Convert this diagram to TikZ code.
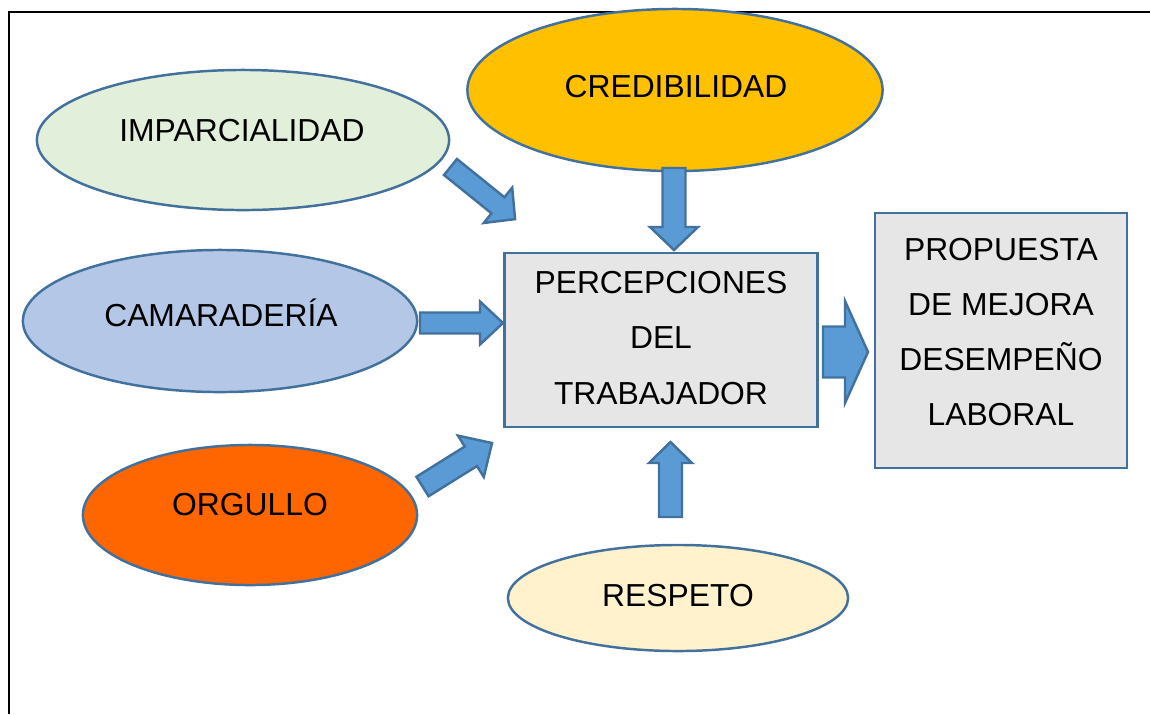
\documentclass[tikz,border=0pt]{standalone}
\usepackage{fontspec}
\setmainfont{Liberation Sans}
\usetikzlibrary{shapes.geometric}
\definecolor{edgeblue}{HTML}{41719C}
\definecolor{arrowfill}{HTML}{5B9BD5}
\definecolor{boxgray}{HTML}{E7E6E6}
\definecolor{imparc}{HTML}{E2EFDA}
\definecolor{cred}{HTML}{FFC000}
\definecolor{camar}{HTML}{B4C7E7}
\definecolor{orgul}{HTML}{FF6600}
\definecolor{respe}{HTML}{FFF2CC}
\tikzset{
  ell/.style={ellipse, draw=edgeblue, line width=0.7pt, inner sep=0pt},
  boxstyle/.style={rectangle, draw=edgeblue, line width=0.7pt, fill=boxgray, inner sep=0pt},
  txt/.style={font=\fontsize{9.05}{15.65}\selectfont, inner sep=0pt, align=center},
  blockarrow/.style={draw=edgeblue, line width=0.7pt, fill=arrowfill, line join=miter},
}
% #1 x, #2 y (tail middle), #3 angle, #4 length, #5 shaft half width, #6 head half width, #7 head length
\newcommand{\blkarrow}[7]{%
  \begin{scope}[shift={(#1,#2)},rotate=#3]
    \draw[blockarrow] (0,-#5) -- ({#4-#7},-#5) -- ({#4-#7},-#6) -- (#4,0) -- ({#4-#7},#6) -- ({#4-#7},#5) -- (0,#5) -- cycle;
  \end{scope}}
\begin{document}
\begin{tikzpicture}[x=0.01cm,y=-0.01cm]
\useasboundingbox (0,0) rectangle (1150,714);
% frame
\draw[line width=0.6pt] (9,714) -- (9,12) -- (1150,12);

% ellipses
\node[ell, fill=imparc, minimum width=41.2mm, minimum height=14.0mm] (imp) at (243,140) {};
\node[ell, fill=cred, minimum width=41.5mm, minimum height=16.2mm] (cre) at (675,90) {};
\node[ell, fill=camar, minimum width=39.4mm, minimum height=14.2mm] (cam) at (220,321) {};
\node[ell, fill=orgul, minimum width=33.4mm, minimum height=14.0mm] (org) at (250,515) {};
\node[ell, fill=respe, minimum width=34.0mm, minimum height=10.6mm] (res) at (678,598) {};

\node[txt] (timp) at (242,131) {IMPARCIALIDAD};
\node[txt] (tcre) at (676,87) {CREDIBILIDAD};
\node[txt] (tcam) at (221,313) {CAMARADERÍA};
\node[txt] (torg) at (250,505) {ORGULLO};
\node[txt] (tres) at (678,596) {RESPETO};

% boxes
\node[boxstyle, minimum width=31.3mm, minimum height=17.4mm] (per) at (661,340) {};
\node[txt] (tper) at (661,338) {PERCEPCIONES\\DEL\\TRABAJADOR};
\node[boxstyle, minimum width=25.2mm, minimum height=25.5mm] (pro) at (1001,340.5) {};
\node[txt] (tpro) at (1001,332) {PROPUESTA\\DE MEJORA\\DESEMPEÑO\\LABORAL};

% block arrows
\blkarrow{450.5}{167}{-38.9}{83}{10.3}{22.7}{22}
\blkarrow{674}{168}{-90}{82}{11.5}{24}{23}
\blkarrow{420}{323}{0}{83}{10.5}{21.5}{23}
\blkarrow{422.5}{486.5}{32}{82}{11.5}{24.4}{25}
\blkarrow{670.5}{517}{90}{75}{11.5}{21.5}{21}
\blkarrow{823}{352}{0}{45}{25.5}{51}{23}
\end{tikzpicture}
\end{document}
